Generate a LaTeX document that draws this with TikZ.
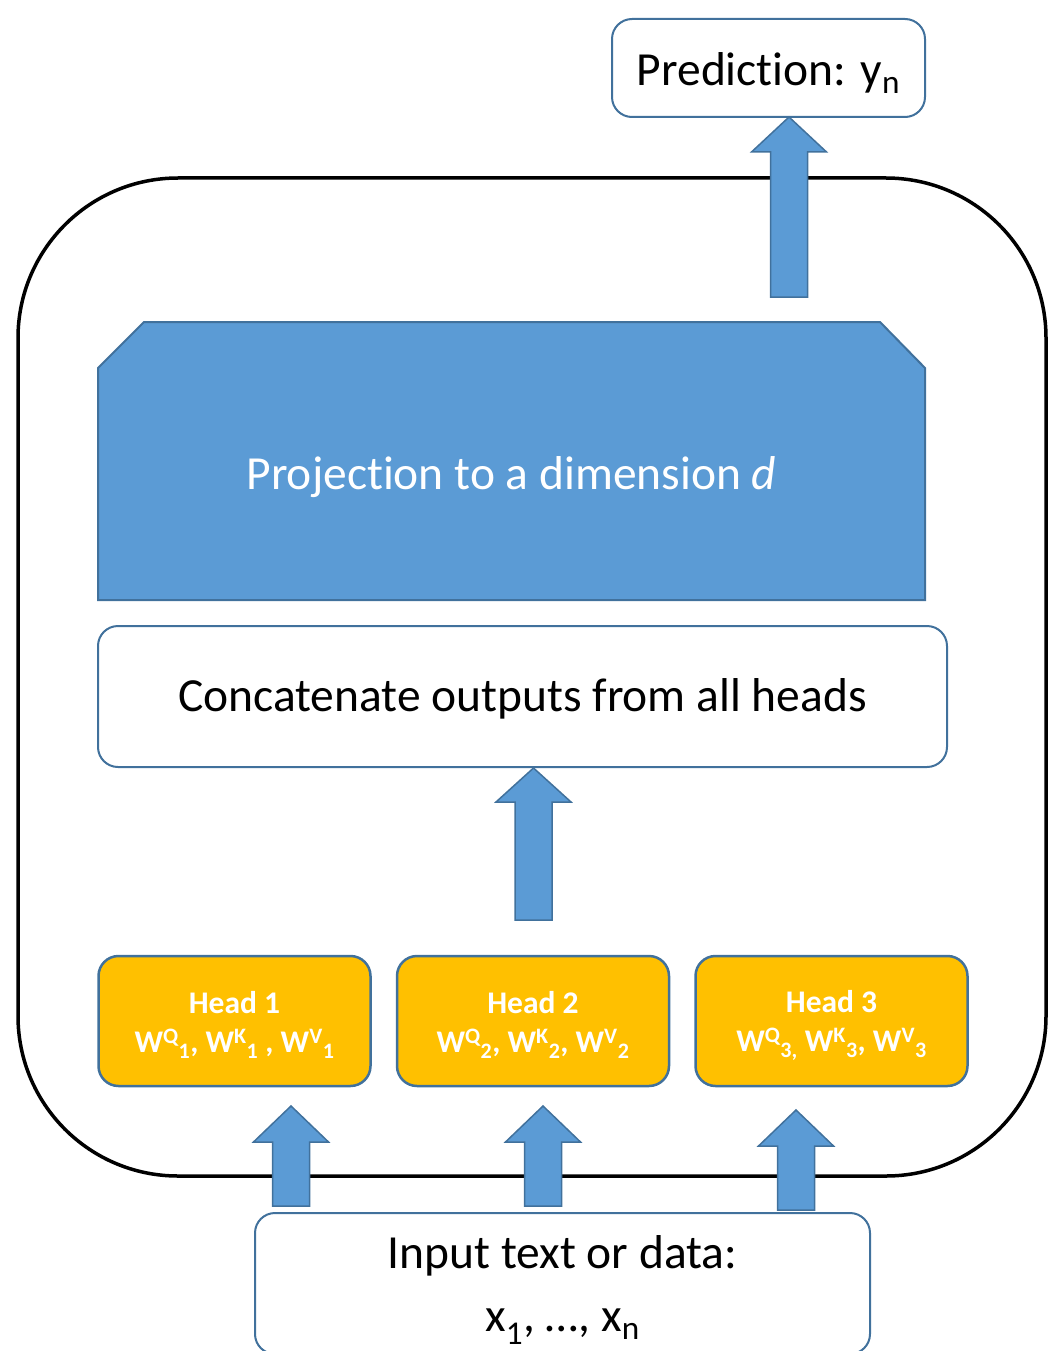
\documentclass[tikz,border=0pt]{standalone}
\usepackage{fontspec}
\setmainfont[Ligatures=NoCommon]{Carlito}
\definecolor{accent}{HTML}{5B9BD5}
\definecolor{edge}{HTML}{41719C}
\definecolor{gold}{HTML}{FFC000}
\tikzset{
  bigtext/.style={font=\fontsize{47.5}{63}\selectfont},
  whitebox/.style={draw=edge, line width=2pt, rounded corners=20pt, fill=white,
    align=center, inner sep=0pt, bigtext},
  headbox/.style={draw=edge, line width=2.5pt, rounded corners=20pt, fill=gold,
    minimum width=272pt, minimum height=130pt, inner sep=0pt},
  headtext/.style={text=white, font=\fontsize{31.5}{39}\selectfont\bfseries, align=center},
  blockarrow/.style={fill=accent, draw=edge, line width=1.5pt, line join=miter},
}
% block arrow pointing up: centre x, bottom y, head base y, tip y
\newcommand\upblock[4]{%
  \filldraw[blockarrow] (#1-18.5,#2) -- (#1-18.5,#3) -- (#1-37.5,#3) -- (#1,#4)
    -- (#1+37.5,#3) -- (#1+18.5,#3) -- (#1+18.5,#2) -- cycle;}
\begin{document}
\begin{tikzpicture}[x=1pt, y=-1pt]
  \useasboundingbox (0,0) rectangle (1056,1351);

  % outer frame of the model
  \draw[line width=3.5pt, rounded corners=160pt] (18,178) rectangle (1046,1176);

  % input and output boxes
  \node[whitebox, minimum width=615pt, minimum height=141pt, anchor=north] (input) at (562.5,1212)
    {};
  \node[bigtext, align=center] (inputtext) at (562.5,1290)
    {Input text or data:\\x\textsubscript{1}, \dots, x\textsubscript{n}};
  \node[whitebox, minimum width=313pt, minimum height=98pt] (pred) at (768.5,68) {};
  \node[bigtext] (predtext) at (768.5,73) {Prediction: y\textsubscript{n}};

  % projection block with clipped top corners
  \filldraw[fill=accent, draw=edge, line width=2pt]
    (98,600) -- (98,368) -- (144,322) -- (880,322) -- (925,368) -- (925,600) -- cycle;
  \node[text=white, bigtext] (proj) at (511.5,477)
    {Projection to a dimension \textit{d}};

  % concatenation
  \node[whitebox, minimum width=849pt, minimum height=141pt] (concat) at (522.5,696.5) {};
  \node[bigtext] (concattext) at (522.5,699) {Concatenate outputs from all heads};

  % attention heads
  \node[headbox] (h1) at (234.5,1021) {};
  \node[headbox] (h2) at (533,1021) {};
  \node[headbox] (h3) at (831.5,1021) {};
  \node[headtext] (h1text) at (234.5,1025)
    {Head 1\\W\textsuperscript{Q}\textsubscript{1}, W\textsuperscript{K}\textsubscript{1} , W\textsuperscript{V}\textsubscript{1}};
  \node[headtext] (h2text) at (533,1025)
    {Head 2\\W\textsuperscript{Q}\textsubscript{2}, W\textsuperscript{K}\textsubscript{2}, W\textsuperscript{V}\textsubscript{2}};
  \node[headtext] (h3text) at (831.5,1025)
    {Head 3\\W\textsuperscript{Q}\textsubscript{3,} W\textsuperscript{K}\textsubscript{3}, W\textsuperscript{V}\textsubscript{3}};

  % flow arrows
  \upblock{291}{1206}{1142}{1106}
  \upblock{543}{1206}{1142}{1106}
  \upblock{796}{1210}{1146}{1110}
  \upblock{533.5}{920}{802}{768}
  \upblock{789}{297}{152}{117}
\end{tikzpicture}
\end{document}
